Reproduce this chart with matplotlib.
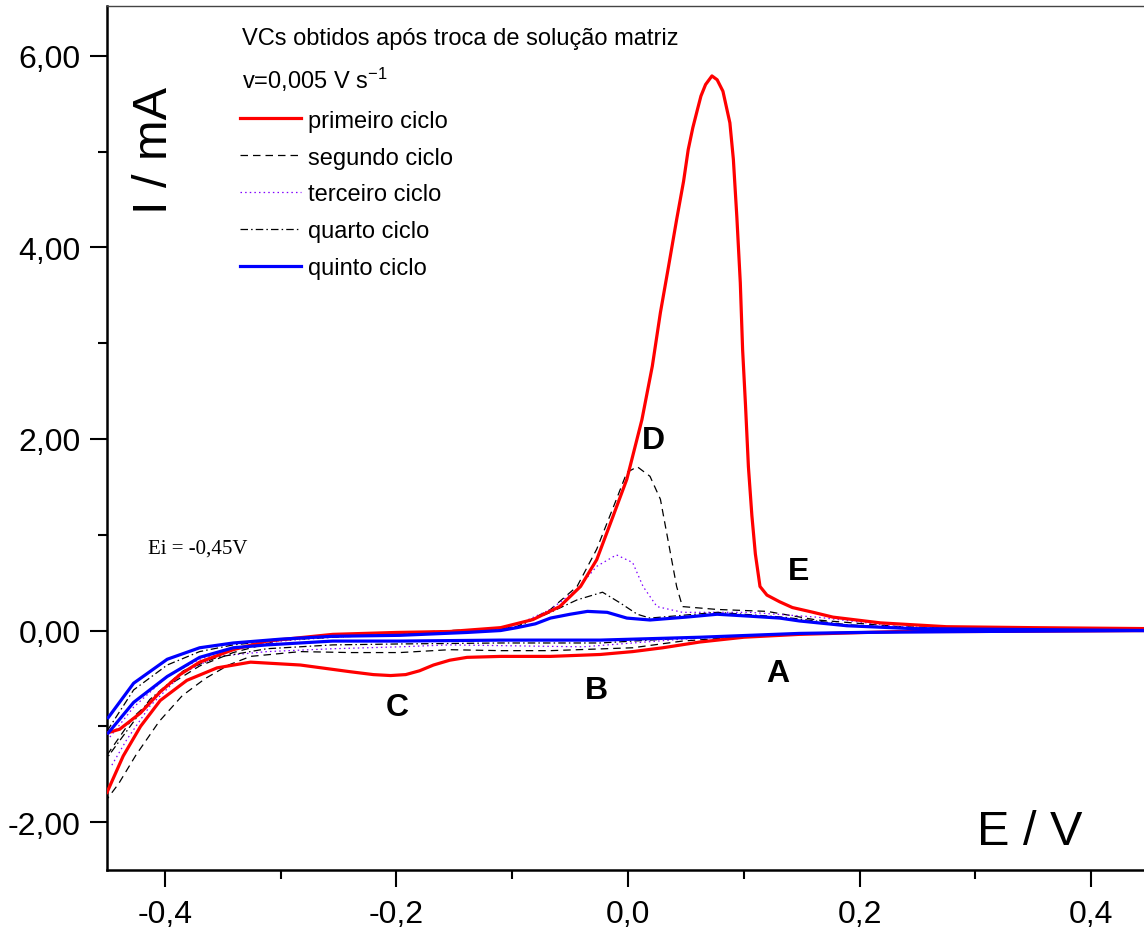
import matplotlib
matplotlib.use("Agg")
import matplotlib.pyplot as plt
from matplotlib.ticker import MultipleLocator, FuncFormatter

plt.rcParams["font.family"] = ["Liberation Sans", "DejaVu Sans"]
plt.rcParams["axes.unicode_minus"] = False
plt.rcParams["mathtext.fontset"] = "custom"
plt.rcParams["mathtext.rm"] = "Liberation Sans"
plt.rcParams["mathtext.it"] = "Liberation Sans"

# cycle 1 (primeiro ciclo): forward scan then reverse scan, E in V, I in mA
e1 = [-0.450, -0.439, -0.421, -0.404, -0.387, -0.370, -0.341, -0.312, -0.255, -0.200,
      -0.154, -0.110, -0.082, -0.059, -0.041, -0.027, -0.013, -0.001, 0.012, 0.021,
      0.028, 0.035, 0.042, 0.048, 0.052, 0.056, 0.060, 0.063, 0.067, 0.0725,
      0.077, 0.082, 0.088,
      0.091, 0.094, 0.097, 0.099, 0.1015, 0.104, 0.107, 0.110, 0.114, 0.120,
      0.131, 0.142, 0.160, 0.177, 0.218, 0.275, 0.350, 0.450,
      0.450, 0.300, 0.235, 0.148, 0.100, 0.062, 0.030, 0.004, -0.024, -0.067,
      -0.110, -0.139, -0.154, -0.168, -0.180, -0.192, -0.205, -0.220, -0.240, -0.283,
      -0.326, -0.355, -0.381, -0.404, -0.421, -0.436, -0.450]
i1 = [-1.07, -1.03, -0.86, -0.64, -0.46, -0.33, -0.20, -0.11, -0.04, -0.02,
      -0.01, 0.03, 0.115, 0.25, 0.46, 0.74, 1.19, 1.58, 2.20, 2.76,
      3.32, 3.80, 4.29, 4.69, 5.02, 5.25, 5.44, 5.58, 5.70, 5.79,
      5.75, 5.63, 5.30,
      4.92, 4.32, 3.63, 2.93, 2.35, 1.71, 1.20, 0.80, 0.46, 0.37,
      0.30, 0.24, 0.19, 0.14, 0.08, 0.04, 0.03, 0.02,
      0.00, -0.01, -0.01, -0.04, -0.07, -0.12, -0.18, -0.22, -0.25, -0.27,
      -0.27, -0.28, -0.31, -0.36, -0.42, -0.46, -0.47, -0.46, -0.43, -0.36,
      -0.33, -0.39, -0.52, -0.73, -1.00, -1.31, -1.69]

# cycle 2 (segundo ciclo)
e2 = [-0.450, -0.427, -0.398, -0.370, -0.341, -0.300, -0.255, -0.200, -0.154, -0.110,
      -0.096, -0.067, -0.044, -0.027, -0.010, -0.001, 0.008, 0.019, 0.028, 0.036,
      0.042, 0.047, 0.077, 0.120, 0.163, 0.235, 0.350, 0.450,
      0.450, 0.300, 0.200, 0.105, 0.047, 0.004, -0.067, -0.110, -0.154, -0.197,
      -0.240, -0.283, -0.326, -0.345, -0.365, -0.385, -0.405, -0.425, -0.440, -0.450]
i2 = [-1.30, -0.90, -0.58, -0.37, -0.23, -0.10, -0.06, -0.03, 0.00, 0.02,
      0.04, 0.22, 0.46, 0.85, 1.37, 1.65, 1.71, 1.61, 1.37, 0.85,
      0.46, 0.25, 0.22, 0.20, 0.11, 0.04, 0.01, 0.00,
      0.00, -0.01, -0.02, -0.06, -0.11, -0.18, -0.21, -0.21, -0.20, -0.23,
      -0.23, -0.22, -0.27, -0.36, -0.50, -0.68, -0.95, -1.30, -1.60, -1.76]

# cycle 3 (terceiro ciclo)
e3 = [-0.450, -0.427, -0.398, -0.370, -0.341, -0.300, -0.255, -0.200, -0.154, -0.110,
      -0.096, -0.067, -0.044, -0.027, -0.010, 0.004, 0.013, 0.025, 0.047, 0.105,
      0.163, 0.235, 0.350, 0.450,
      0.450, 0.300, 0.200, 0.105, 0.047, -0.039, -0.154, -0.197, -0.255, -0.312,
      -0.355, -0.384, -0.413, -0.433, -0.447]
i3 = [-1.15, -0.80, -0.48, -0.30, -0.19, -0.11, -0.07, -0.04, -0.01, 0.02,
      0.06, 0.22, 0.43, 0.67, 0.79, 0.71, 0.46, 0.25, 0.19, 0.19,
      0.14, 0.04, 0.01, 0.00,
      0.00, -0.01, -0.02, -0.05, -0.09, -0.17, -0.15, -0.17, -0.19, -0.22,
      -0.27, -0.44, -0.79, -1.14, -1.43]

# cycle 4 (quarto ciclo)
e4 = [-0.450, -0.427, -0.398, -0.370, -0.341, -0.300, -0.255, -0.200, -0.154, -0.110,
      -0.096, -0.067, -0.044, -0.022, -0.007, 0.008, 0.019, 0.077, 0.134, 0.190,
      0.250, 0.350, 0.450,
      0.450, 0.300, 0.200, 0.105, 0.047, -0.024, -0.110, -0.197, -0.255, -0.312,
      -0.355, -0.384, -0.413, -0.433, -0.450]
i4 = [-1.05, -0.62, -0.36, -0.22, -0.15, -0.10, -0.07, -0.04, -0.01, 0.02,
      0.04, 0.19, 0.32, 0.40, 0.29, 0.17, 0.13, 0.19, 0.14, 0.06,
      0.02, 0.01, 0.00,
      0.00, -0.01, -0.02, -0.05, -0.08, -0.13, -0.13, -0.14, -0.15, -0.19,
      -0.28, -0.42, -0.72, -1.05, -1.33]

# cycle 5 (quinto ciclo)
e5 = [-0.449, -0.427, -0.398, -0.370, -0.341, -0.300, -0.255, -0.197, -0.139, -0.110,
      -0.096, -0.080, -0.067, -0.050, -0.035, -0.018, -0.001, 0.019, 0.050, 0.077,
      0.105, 0.131, 0.148, 0.189, 0.246, 0.350, 0.450,
      0.450, 0.300, 0.200, 0.148, 0.062, -0.024, -0.110, -0.197, -0.255, -0.312,
      -0.341, -0.370, -0.398, -0.427, -0.449]
i5 = [-0.91, -0.55, -0.30, -0.18, -0.13, -0.09, -0.06, -0.05, -0.02, 0.00,
      0.03, 0.07, 0.13, 0.17, 0.20, 0.19, 0.13, 0.11, 0.14, 0.17,
      0.15, 0.13, 0.10, 0.05, 0.02, 0.01, 0.00,
      0.00, -0.01, -0.02, -0.03, -0.07, -0.10, -0.10, -0.11, -0.11, -0.15,
      -0.18, -0.28, -0.48, -0.75, -1.07]

labels = ["primeiro ciclo", "segundo ciclo", "terceiro ciclo", "quarto ciclo", "quinto ciclo"]

# peak labels and where they sit
peak_names = ["A", "B", "C", "D", "E"]
peak_e = [0.129, -0.027, -0.199, 0.0216, 0.147]
peak_i = [-0.44, -0.62, -0.80, 1.99, 0.62]

fig = plt.figure(figsize=(11.44, 9.37), dpi=100)
ax = fig.add_axes([107 / 1144, 66 / 937, 1042 / 1144, 864 / 937])

ax.plot(e1, i1, color="#ff0000", lw=2.3, label=labels[0], zorder=3)
ax.plot(e2, i2, color="black", lw=0.9, ls=(0, (6, 4)), label=labels[1], zorder=2)
ax.plot(e3, i3, color="#8000ff", lw=0.9, ls=(0, (1.2, 2.5)), label=labels[2], zorder=2)
ax.plot(e4, i4, color="black", lw=0.9, ls=(0, (6, 2.5, 1.2, 2.5)), label=labels[3], zorder=2)
ax.plot(e5, i5, color="#0000ff", lw=2.3, label=labels[4], zorder=4)

ax.set_xlim(-0.45, 0.45)
ax.set_ylim(-2.5, 6.52)

ax.xaxis.set_major_locator(MultipleLocator(0.2))
ax.xaxis.set_minor_locator(MultipleLocator(0.1))
ax.yaxis.set_major_locator(MultipleLocator(2))
ax.yaxis.set_minor_locator(MultipleLocator(1))
ax.xaxis.set_major_formatter(FuncFormatter(lambda v, p: f"{v:.1f}".replace(".", ",").replace("-0,0", "0,0")))
ax.yaxis.set_major_formatter(FuncFormatter(lambda v, p: f"{v:.2f}".replace(".", ",").replace("-0,00", "0,00")))

ax.tick_params(which="major", direction="out", length=12, width=1.5, labelsize=23, pad=7,
               top=False, right=False)
ax.tick_params(which="minor", direction="out", length=6.5, width=1.5, top=False, right=False)
ax.tick_params(axis="x", which="major", pad=9)

for side in ["left", "bottom"]:
    ax.spines[side].set_linewidth(1.8)
ax.spines["top"].set_linewidth(1.0)
ax.spines["top"].set_color("#444444")
ax.spines["right"].set_visible(False)

ax.text(-0.409, 5.02, "I / mA", rotation=90, fontsize=35, ha="center", va="center")
ax.text(0.347, -2.10, "E / V", fontsize=35, ha="center", va="center")

ax.text(-0.3333, 6.12, "VCs obtidos após troca de solução matriz", fontsize=17,
        ha="left", va="baseline")
ax.text(-0.3333, 5.67, "v=0,005 V s$^{-1}$", fontsize=17, ha="left", va="baseline")
ax.text(-0.4145, 0.856, "Ei = -0,45V", fontsize=15, family="Liberation Serif",
        ha="left", va="center")

for name, x, y in zip(peak_names, peak_e, peak_i):
    ax.text(x, y, name, fontsize=23, fontweight="bold", ha="center", va="center")

ax.legend(loc="upper left", bbox_to_anchor=(0.1276, 0.880), fontsize=17, frameon=False,
          borderpad=0, borderaxespad=0, handlelength=2.6, handletextpad=0.3,
          labelspacing=0.63)

fig.savefig("out.png", dpi=100)
